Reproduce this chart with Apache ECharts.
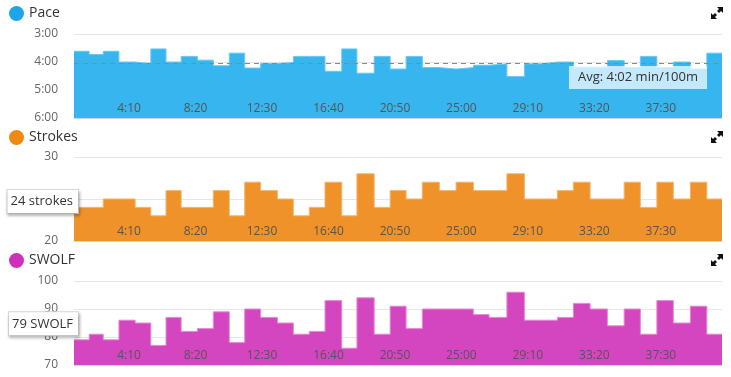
<!DOCTYPE html>
<html>
<head>
<meta charset="utf-8">
<script src="https://cdn.jsdelivr.net/npm/echarts@6/dist/echarts.min.js"></script>
<style>
  html,body{margin:0;padding:0;background:#fff}
  #main{width:731px;height:377px}
</style>
</head>
<body>
<div id="main"></div>
<script>
// lap boundaries in seconds (41 edges -> 40 lengths)
var lapTimes = [43,100,153,212,273,332,389,446,507,567,627,685,745,808,868,928,987,1050,1107,1172,
  1232,1292,1353,1417,1480,1545,1604,1671,1737,1799,1861,1921,1984,2049,2112,2173,2235,2297,2361,2423,2480];
// pace in seconds per 100m
var pace = [217,224,217,240,243,212,240,228,236,248,221,253,243,241,228,228,260,212,264,228,
  255,228,252,255,252,247,244,271,244,240,240,251,251,237,252,228,252,240,255,221];
var strokes = [24,24,25,25,24,23,26,24,24,26,23,27,26,25,23,24,27,23,28,24,
  26,25,27,26,27,26,26,28,25,25,26,27,25,25,27,24,27,25,27,25];
var swolf = [79,81,79,86,85,77,87,82,83,89,78,90,87,85,81,82,93,76,94,81,
  91,83,90,90,90,88,87,96,86,86,87,92,90,84,90,81,93,85,91,81];
var xTicks = [250,500,750,1000,1250,1500,1750,2000,2250];
var avgPace = 242;
var strokesMark = 24;
var swolfMark = 79;

function mmss(v){
  var m = Math.floor(v/60), s = Math.round(v%60);
  return m + ':' + (s<10 ? '0'+s : s);
}
// step data: one point per lap start + closing point
function steps(vals){
  var d = vals.map(function(v,i){ return [lapTimes[i], v]; });
  d.push([lapTimes[lapTimes.length-1], vals[vals.length-1]]);
  return d;
}

var font = "'Open Sans', sans-serif";
var grids = [34, 157, 281];
var legendTops = [1, 125, 248];

function xAxis(i){
  return {
    type:'value', gridIndex:i, min:lapTimes[0], max:lapTimes[lapTimes.length-1], z:10,
    splitLine:{show:false},
    axisTick:{show:false},
    axisLine:{lineStyle:{color:'#ccd6eb'}},
    axisLabel:{inside:true, customValues:xTicks, formatter:mmss, color:'#555', fontSize:12, margin:3, fontFamily:font}
  };
}
function yAxis(i, o){
  return Object.assign({
    type:'value', gridIndex:i,
    axisLine:{show:false}, axisTick:{show:false},
    splitLine:{lineStyle:{color:'#e6e6e6'}},
    axisLabel:{color:'#666', fontSize:12, margin:16, fontFamily:font}
  }, o);
}
var boxLabel = {
  show:true, position:'start', distance:-4, color:'#333', fontSize:13, fontFamily:font,
  backgroundColor:'#fff', borderColor:'#d8d8d8', borderWidth:1, padding:[5,5,5,3],
  shadowColor:'rgba(0,0,0,0.25)', shadowBlur:3, shadowOffsetX:1, shadowOffsetY:2
};

var myChart = echarts.init(document.getElementById('main'));
myChart.setOption({
  animation:false,
  textStyle:{fontFamily:font},
  grid: grids.map(function(t){ return {left:74, right:9, top:t, height:84}; }),
  legend: ['Pace','Strokes','SWOLF'].map(function(n,i){
    return {data:[n], left:4, top:legendTops[i], icon:'circle', itemWidth:15, itemHeight:15, itemGap:6,
      selectedMode:false, textStyle:{fontSize:14, color:'#333', fontFamily:font}};
  }),
  xAxis:[xAxis(0), xAxis(1), xAxis(2)],
  yAxis:[
    yAxis(0, {min:180, max:360, interval:60, inverse:true, axisLabel:{color:'#666', fontSize:12, margin:16, fontFamily:font, formatter:mmss}}),
    yAxis(1, {min:20, max:30, interval:5}),
    yAxis(2, {min:70, max:100, interval:10})
  ],
  series:[
    {
      name:'Pace', type:'line', step:'end', xAxisIndex:0, yAxisIndex:0,
      data:steps(pace), symbol:'none',
      itemStyle:{color:'#1ca6e8'},
      lineStyle:{color:'#6cc9f2', width:1},
      areaStyle:{color:'#36b5ee', opacity:1, origin:'end'},
      markLine:{
        silent:true, symbol:'none',
        lineStyle:{color:'#888', type:[5,4], width:1},
        label:{position:'insideEndBottom', distance:[15,3], formatter:'Avg: ' + mmss(avgPace) + ' min/100m',
          color:'#333', fontSize:13, fontFamily:font, backgroundColor:'rgba(255,255,255,0.7)', padding:[5,9,5,9]},
        data:[{yAxis:avgPace}]
      }
    },
    {
      name:'Strokes', type:'line', step:'end', xAxisIndex:1, yAxisIndex:1,
      data:steps(strokes), symbol:'none',
      itemStyle:{color:'#ef8a0e'},
      lineStyle:{color:'#f5b46c', width:1},
      areaStyle:{color:'#ef9229', opacity:1},
      markLine:{
        silent:true, symbol:'none', z:10, lineStyle:{color:'rgba(0,0,0,0)'},
        label:Object.assign({}, boxLabel, {formatter:strokesMark + ' strokes', offset:[0,-6]}),
        data:[{yAxis:strokesMark}]
      }
    },
    {
      name:'SWOLF', type:'line', step:'end', xAxisIndex:2, yAxisIndex:2,
      data:steps(swolf), symbol:'none',
      itemStyle:{color:'#d02fba'},
      lineStyle:{color:'#e38ad6', width:1},
      areaStyle:{color:'#d446bf', opacity:1},
      markLine:{
        silent:true, symbol:'none', z:10, lineStyle:{color:'rgba(0,0,0,0)'},
        label:Object.assign({}, boxLabel, {formatter:swolfMark + ' SWOLF', offset:[0,-16]}),
        data:[{yAxis:swolfMark}]
      }
    }
  ],
  // expand icons at the top right of each panel
  graphic: [7, 131, 254].map(function(t){
    return {type:'group', right:8, top:t, children:[
      {type:'polygon', shape:{points:[[6,0],[12,0],[12,6],[10,4],[8,6],[6,4],[8,2]]}, style:{fill:'#111'}},
      {type:'polygon', shape:{points:[[0,6],[2,8],[4,6],[6,8],[4,10],[6,12],[0,12]]}, style:{fill:'#111'}}
    ]};
  })
});
</script>
</body>
</html>
